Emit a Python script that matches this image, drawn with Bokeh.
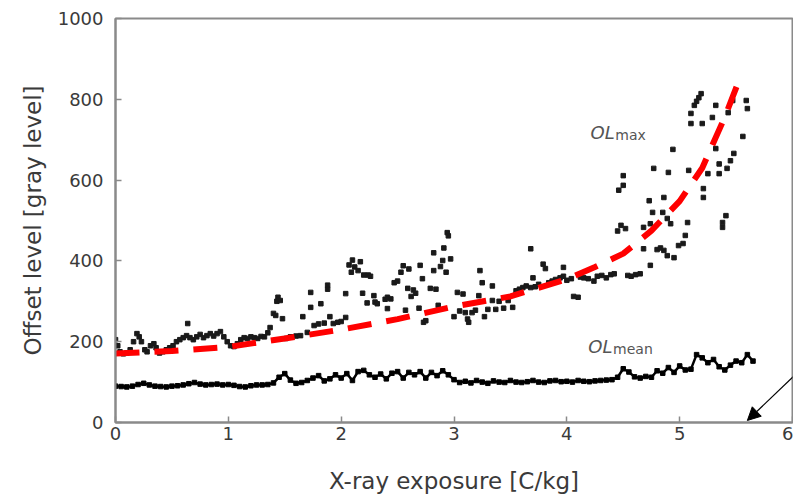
from bokeh.plotting import figure
from bokeh.models import Range1d, Label, Arrow, NormalHead, FixedTicker
from bokeh.embed import file_html
from bokeh.resources import INLINE

# ---------------- data ----------------
x_ticks = [0, 1, 2, 3, 4, 5, 6]
y_ticks = [0, 200, 400, 600, 800, 1000]

# OL_mean (sampled every 0.05 C/kg)
mean_x = [round(i * 0.05, 2) for i in range(114)]
mean_y = [90, 89, 88, 90, 94, 97, 93, 90, 89, 88, 90, 91, 93, 96, 99, 95, 93, 94, 95, 93,
          94, 92, 89, 88, 91, 93, 93, 94, 98, 112, 121, 105, 97, 99, 104, 110, 116, 103, 108, 118,
          110, 121, 104, 126, 129, 118, 112, 120, 108, 122, 126, 110, 124, 118, 126, 110, 124, 116, 128, 118,
          106, 99, 102, 98, 104, 100, 97, 103, 100, 99, 104, 100, 99, 101, 104, 100, 99, 103, 104, 101,
          102, 100, 104, 102, 101, 103, 104, 105, 106, 112, 133, 125, 113, 110, 114, 112, 128, 122, 136, 124,
          140, 130, 132, 168, 160, 148, 156, 138, 130, 142, 152, 148, 168, 152]

# OL_max scatter
max_x = [0.00, 0.02, 0.04, 0.07, 0.10, 0.13, 0.16, 0.19, 0.21, 0.23, 0.26, 0.28, 0.31, 0.34, 0.36, 0.39,
         0.42, 0.45, 0.48, 0.51, 0.54, 0.57, 0.60, 0.63, 0.64, 0.66, 0.69, 0.72, 0.75, 0.78, 0.81, 0.84,
         0.87, 0.90, 0.93, 0.96, 0.99, 1.02, 1.05, 1.08, 1.11, 1.14, 1.17, 1.20, 1.23, 1.26, 1.29, 1.32,
         1.35, 1.37, 1.40, 1.42, 1.43, 1.44, 1.46, 1.48,
         1.51, 1.55, 1.60, 1.64, 1.66, 1.70, 1.73, 1.73, 1.76, 1.80, 1.82, 1.85, 1.88, 1.88, 1.90, 1.93,
         1.97, 2.00, 2.04, 2.04,
         2.07, 2.09, 2.10, 2.12, 2.15, 2.17, 2.19, 2.20, 2.23, 2.24, 2.26, 2.29, 2.30, 2.32, 2.39, 2.41,
         2.41, 2.44, 2.47, 2.50, 2.53, 2.55, 2.57, 2.59, 2.60, 2.62, 2.64, 2.66, 2.69, 2.70, 2.72, 2.73,
         2.75, 2.79, 2.82, 2.82, 2.84, 2.86, 2.88, 2.90, 2.91, 2.93, 2.94, 2.95, 2.97,
         3.00, 3.03, 3.05, 3.08, 3.10, 3.12, 3.13, 3.16, 3.19, 3.22, 3.23, 3.25, 3.27, 3.30, 3.34, 3.34,
         3.37, 3.40, 3.44, 3.48, 3.52, 3.55, 3.58, 3.61, 3.64, 3.68, 3.68, 3.70, 3.72, 3.75, 3.79, 3.81,
         3.84, 3.87, 3.90, 3.94, 3.97, 3.97,
         4.00, 4.04, 4.06, 4.10, 4.12, 4.15, 4.19, 4.24, 4.27, 4.31, 4.35, 4.39, 4.42, 4.45, 4.46, 4.48,
         4.50, 4.50, 4.52, 4.54, 4.57, 4.61, 4.65, 4.68, 4.68, 4.73, 4.74, 4.74, 4.76, 4.77, 4.80, 4.83,
         4.85, 4.86, 4.86, 4.89, 4.89, 4.90, 4.92, 4.94, 4.95, 4.99,
         5.03, 5.05, 5.07, 5.08, 5.10, 5.10, 5.13, 5.15, 5.17, 5.19, 5.20, 5.21, 5.21, 5.25, 5.29, 5.32,
         5.32, 5.35, 5.35, 5.38, 5.38, 5.41, 5.42, 5.43, 5.45, 5.47, 5.48, 5.56, 5.59, 5.60]
max_y = [205, 190, 175, 170, 172, 180, 200, 220, 212, 200, 180, 175, 190, 195, 185, 172,
         175, 180, 185, 190, 200, 205, 210, 215, 245, 210, 205, 212, 218, 210, 215, 220,
         214, 220, 225, 212, 200, 190, 188, 195, 205, 210, 208, 212, 210, 208, 213, 212,
         222, 235, 270, 265, 300, 310, 302, 257,
         208, 212, 214, 215, 262, 223, 285, 322, 240, 244, 294, 246, 330, 340, 262, 245,
         248, 250, 260, 319,
         390, 372, 402, 385, 376, 398, 320, 365, 296, 365, 362, 314, 298, 294, 305, 282,
         310, 306, 346, 350, 372, 388, 278, 332, 380, 312, 328, 320, 283, 389, 356, 248,
         252, 332, 420, 376, 330, 290, 386, 401, 432, 372, 470, 462, 405,
         262, 322, 276, 318, 272, 256, 248, 272, 278, 314, 376, 346, 262, 280, 338, 302,
         280, 300, 283, 302, 285, 326, 330, 334, 338, 430, 334, 358, 336, 342, 392, 381,
         346, 350, 354, 358, 384, 362,
         352, 356, 312, 310, 360, 358, 356, 350, 362, 364, 358, 366, 368, 474, 575, 488,
         587, 611, 480, 364, 362, 366, 368, 430, 483, 549, 492, 389, 520, 629, 428, 432,
         520, 557, 426, 505, 413, 619, 492, 676, 408, 438,
         443, 463, 495, 624, 740, 765, 785, 795, 804, 814, 740, 579, 557, 616, 755, 785,
         678, 616, 640, 495, 483, 512, 629, 767, 648, 797, 666, 708, 797, 777]

# dashed red fit curve
fit_x = [0.0, 0.5, 1.0, 1.5, 2.0, 2.5, 3.0, 3.5, 4.0, 4.25, 4.5, 4.75, 5.0, 5.2, 5.4, 5.55]
fit_y = [171, 177, 187, 208, 230, 256, 287, 312, 355, 385, 418, 475, 548, 630, 756, 864]

x_label = "X-ray exposure [C/kg]"
y_label = "Offset level [gray level]"

FONT = "DejaVu Sans"
TXT = "#3a3a3a"
AX = "#8a8a8a"

p = figure(width=793, height=498, output_backend="svg", toolbar_location=None,
           x_range=Range1d(0, 6), y_range=Range1d(0, 1000),
           min_border_left=115, min_border_right=1, min_border_top=18, min_border_bottom=76)
p.grid.visible = False
p.outline_line_color = AX
p.outline_line_width = 2
p.background_fill_color = "white"
p.border_fill_color = "white"

for ax in (p.xaxis[0], p.yaxis[0]):
    ax.axis_line_color = AX
    ax.axis_line_width = 2
    ax.major_tick_line_color = AX
    ax.major_tick_line_width = 1.5
    ax.major_tick_in = 6
    ax.major_tick_out = 0
    ax.minor_tick_line_color = None
    ax.major_label_text_font = FONT
    ax.major_label_text_font_size = "18px"
    ax.major_label_text_color = TXT
    ax.axis_label_text_font = FONT
    ax.axis_label_text_font_size = "23px"
    ax.axis_label_text_font_style = "normal"
    ax.axis_label_text_color = TXT

p.xaxis.ticker = FixedTicker(ticks=x_ticks)
p.yaxis.ticker = FixedTicker(ticks=y_ticks)
p.xaxis.axis_label = x_label
p.yaxis.axis_label = y_label
p.xaxis.major_label_standoff = 4
p.xaxis.axis_label_standoff = 25
p.yaxis.major_label_standoff = 12
p.yaxis.axis_label_standoff = 9

# OL mean
p.line(mean_x, mean_y, line_color="black", line_width=2.5)
p.scatter(mean_x, mean_y, marker="square", size=4.5, fill_color="black", line_color="black")

# OL max
p.scatter(max_x, max_y, marker="square", size=4.5, fill_color="#1a1a1a", line_color="#1a1a1a")

# fit
p.line(fit_x, fit_y, line_color="#ff0000", line_width=6, line_dash="24 15")

# annotations
p.add_layout(Label(x=4.21, y=693, text="OL", text_font=FONT, text_font_style="italic",
                   text_font_size="18px", text_color="#555555"))
p.add_layout(Label(x=4.43, y=693, text="max", text_font=FONT,
                   text_font_size="14px", text_color="#555555"))
p.add_layout(Label(x=4.19, y=161, text="OL", text_font=FONT, text_font_style="italic",
                   text_font_size="18px", text_color="#555555"))
p.add_layout(Label(x=4.41, y=161, text="mean", text_font=FONT,
                   text_font_size="14px", text_color="#555555"))

p.add_layout(Arrow(end=NormalHead(size=13, fill_color="black", line_color="black"),
                   x_start=6.05, y_start=125, x_end=5.6, y_end=5,
                   line_color="black", line_width=1.2))

open("out.html", "w").write(file_html(p, INLINE))
